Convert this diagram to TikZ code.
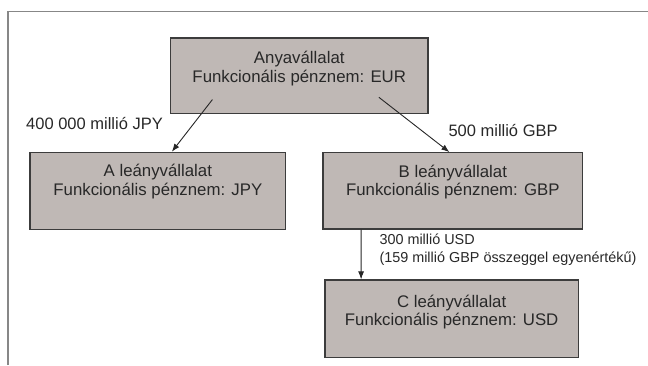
\documentclass[tikz,border=0pt]{standalone}
\usepackage{fontspec}
\setmainfont{Liberation Sans}
\usetikzlibrary{arrows.meta}
\definecolor{boxfill}{RGB}{191,184,181}
\definecolor{boxline}{RGB}{60,60,60}
\definecolor{txt}{RGB}{40,40,40}
\definecolor{frame}{RGB}{135,135,135}
\tikzset{
  box/.style={draw=boxline, line width=1.2pt, fill=boxfill, inner sep=0pt},
  boxtext/.style={align=center, text=txt, font=\fontsize{16.8}{18.5}\selectfont, inner sep=0pt},
  lbl/.style={text=txt, font=\fontsize{16.5}{18.5}\selectfont, inner sep=0pt, anchor=west},
  lbls/.style={text=txt, font=\fontsize{14.4}{17.3}\selectfont, inner sep=0pt, align=left, anchor=north west},
  arr/.style={draw=black!85, line width=0.9pt, -{Latex[length=8pt,width=6pt]}},
  frameline/.style={draw=frame, line width=1.5pt}
}
\begin{document}
\begin{tikzpicture}[x=1pt, y=-1pt]
\useasboundingbox (0,0) rectangle (648,365);
\draw[frameline] (8,365) -- (8,11.7) -- (648,11.7);

\node[box, minimum width=257.5pt, minimum height=75.5pt] (P) at (299.25,75.75) {};
\node[boxtext] (Pt) at ([yshift=7pt]P.center) {Anyavállalat\\Funkcionális pénznem: EUR};

\node[box, minimum width=255.7pt, minimum height=77pt] (A) at (157.85,190.8) {};
\node[boxtext] (At) at ([yshift=9pt]A.center) {A leányvállalat\\Funkcionális pénznem: JPY};

\node[box, minimum width=259.7pt, minimum height=76.3pt] (B) at (452.85,190.85) {};
\node[boxtext] (Bt) at ([yshift=9pt]B.center) {B leányvállalat\\Funkcionális pénznem: GBP};

\node[box, minimum width=253.3pt, minimum height=77.5pt] (C) at (451.65,318.75) {};
\node[boxtext] (Ct) at ([yshift=6.5pt]C.center) {C leányvállalat\\Funkcionális pénznem: USD};

\draw[arr] ([xshift=42.5pt, yshift=14.5pt]P.south west) -- ([xshift=14pt]A.north);
\draw[arr] ([xshift=-49.7pt, yshift=16.8pt]P.south east) -- ([xshift=-3.5pt]B.north);
\draw[arr] ([xshift=38.7pt]B.south west) -- ([xshift=36.7pt]C.north west);

\node[lbl] (L1) at (26,123.3) {400 000 millió JPY};
\node[lbl] (L2) at (448.3,130.7) {500 millió GBP};
\node[lbls] (L3) at (379.3,234) {300 millió USD\\(159 millió GBP összeggel egyenértékű)};
\end{tikzpicture}
\end{document}
